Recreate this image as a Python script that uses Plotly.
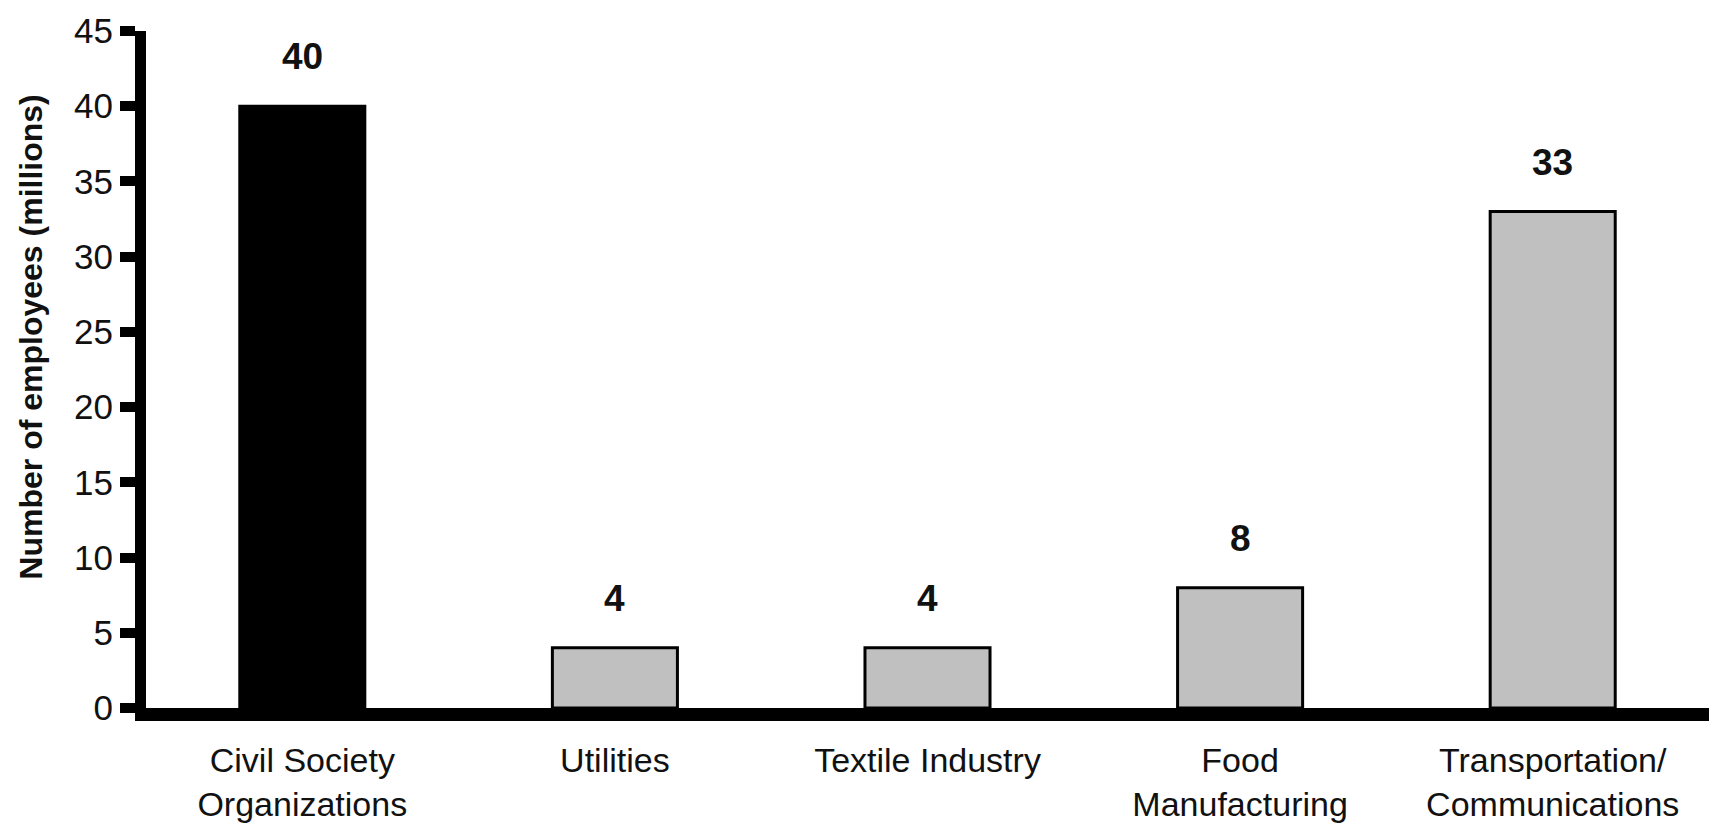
import plotly.graph_objects as go

categories = ["Civil Society<br>Organizations", "Utilities", "Textile Industry",
              "Food<br>Manufacturing", "Transportation/<br>Communications"]
employees = [40, 4, 4, 8, 33]
value_labels = ["40", "4", "4", "8", "33"]
bar_colors = ["#000000", "#C0C0C0", "#C0C0C0", "#C0C0C0", "#C0C0C0"]
y_ticks = [0, 5, 10, 15, 20, 25, 30, 35, 40, 45]
y_title = "Number of employees (millions)"

FONT = "Arial, Liberation Sans, sans-serif"

fig = go.Figure()
fig.add_trace(go.Bar(
    x=categories, y=employees, width=0.4,
    marker=dict(color=bar_colors, line=dict(color="#000000", width=3)),
    showlegend=False, hoverinfo="skip",
))

for c, v, t in zip(categories, employees, value_labels):
    fig.add_annotation(x=c, y=v, text="<b>" + t + "</b>", showarrow=False,
                       xref="x", yref="y", yanchor="bottom", yshift=27,
                       font=dict(family=FONT, size=37, color="#111111"))

fig.add_annotation(x=-0.0738, y=0.548, xref="paper", yref="paper",
                   text="<b>" + y_title + "</b>", textangle=-90, showarrow=False,
                   xanchor="center", yanchor="middle",
                   font=dict(family=FONT, size=32, color="#111111"))

fig.update_layout(
    width=1717, height=828,
    margin=dict(l=146, r=8, t=31, b=120, autoexpand=False),
    paper_bgcolor="white", plot_bgcolor="white",
    xaxis=dict(range=[-0.5, 4.5], showline=True, linecolor="#000000", linewidth=13,
               ticks="", showgrid=False, zeroline=False, automargin=False,
               ticklabelstandoff=10,
               tickfont=dict(family=FONT, size=34, color="#111111")),
    yaxis=dict(range=[0, 45], tickvals=y_ticks, showline=True, linecolor="#000000",
               linewidth=11, ticks="outside", ticklen=15, tickwidth=10,
               tickcolor="#000000", showgrid=False, zeroline=False, automargin=False,
               tickfont=dict(family=FONT, size=35, color="#111111")),
)

fig.write_html(
    "out.html",
    config={"displayModeBar": False},
    post_script="document.body.style.margin='0';"
                "document.documentElement.style.overflow='hidden';",
)
